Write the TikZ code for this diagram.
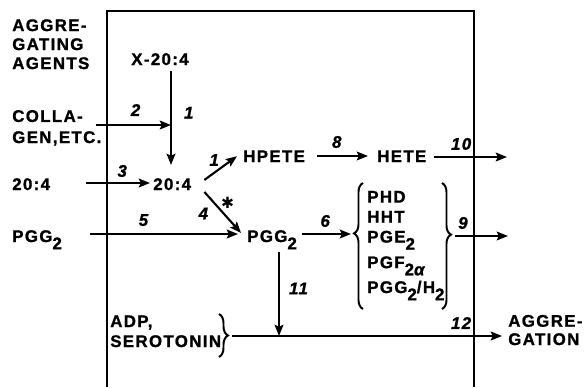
\documentclass[tikz,border=0pt]{standalone}
\usepackage{fontspec}
\setmainfont{Liberation Sans}[LetterSpace=8, BoldFeatures={FakeBold=1.2}, BoldItalicFeatures={FakeBold=1.2}]
\newfontfamily\starfont{DejaVu Sans}
\usetikzlibrary{arrows.meta,positioning,decorations.pathreplacing}

\newcommand{\dn}[1]{\raisebox{-1.8mm}{#1}}
\newcommand{\tightlines}{\lineskiplimit=-20pt\relax}

\begin{document}
\begin{tikzpicture}[
  x=0.25mm, y=-0.25mm,
  font=\fontsize{12}{13.5}\selectfont\bfseries\tightlines,
  txt/.style={inner sep=0pt, align=left},
  num/.style={inner sep=0pt, font=\fontsize{12}{13.5}\selectfont\bfseries\itshape},
  arr/.style={-{Stealth[length=2.8mm, width=2.2mm, inset=0.5mm]}, line width=1.5pt},
  brc/.style={decorate, decoration={brace, amplitude=2.25mm}, line width=1.4pt},
  frame/.style={line width=1.7pt}
]
\useasboundingbox (0,0) rectangle (585,387);

% platelet
\draw[frame] (107,387) -- (107,11) -- (474,11) -- (474,387);

% multi-line nodes sit on their last baseline
\node[txt, anchor=base west] (agents) at (12,69) {AGGRE-\\GATING\\AGENTS};
\node[txt, anchor=base west] (x204) at (131,65) {X-20:4};
\node[txt, anchor=base west, font=\fontsize{12}{15}\selectfont\bfseries\tightlines] (coll) at (12,143) {COLLA-\\GEN,ETC.};
\node[txt, anchor=base west] (aa) at (12,190) {20:4};
\node[txt, anchor=base west] (ab) at (153,190) {20:4};
\node[txt, anchor=base west] (hpete) at (243,162) {HPETE};
\node[txt, anchor=base west] (hete) at (377,162) {HETE};
\node[txt, anchor=base west] (pl) at (12,242) {PGG\dn{2}};
\node[txt, anchor=base west] (pm) at (247,242) {PGG\dn{2}};
\node[txt, anchor=base west, font=\fontsize{12}{14.2}\selectfont\bfseries\tightlines] (prods) at (367,293)
  {PHD\\HHT\\PGE\dn{2}\\[4pt]PGF\dn{2\itshape α}\\[3.5pt]PGG\dn{2}/H\dn{2}};
\node[txt, anchor=base west, font=\fontsize{12}{14.2}\selectfont\bfseries\tightlines] (adp) at (110,347) {ADP,\\SEROTONIN};
\node[txt, anchor=base west, font=\fontsize{12}{13}\selectfont\bfseries\tightlines] (aggr) at (508,345) {AGGRE-\\GATION};

\coordinate (join) at (171,125);
\coordinate (join2) at (279,336);
\coordinate (r3) at (0,183);
\coordinate (r5) at (0,234);
\coordinate (r8) at (0,156);
\coordinate (bl) at (351,234);
\coordinate (br) at (455,236);
\coordinate (ba) at (232,336);
\coordinate (out10) at (507,157);
\coordinate (out9) at (508,236);

\draw[brc, decoration={aspect=0.6}] (363,309) -- (363,183);
\draw[brc, decoration={aspect=0.41}] (442,183) -- (442,309);
\draw[brc, decoration={aspect=0.5}] (219,314) -- (219,357);

\draw[arr, shorten <=1.5mm, shorten >=3.25mm] (join |- x204.south) -- node[num, right=3mm, pos=0.42] {1} (join |- ab.north);
\draw[arr] ([xshift=-1.5mm]coll.east |- join) -- node[num, above=2mm, pos=0.53] {2} (join);
\draw[arr, shorten <=9mm, shorten >=0.75mm] (aa.east |- r3) -- node[num, above=1.25mm, pos=0.7] {3} (ab.west |- r3);
\draw[arr] ([shift={(13,2)}]ab.north east) -- node[num, pos=0.3, above=1.5mm] {1} ([xshift=-1.5mm]hpete.west);
\draw[arr] ([shift={(13,14)}]ab.north east) -- node[num, pos=0.3, xshift=-3mm, yshift=-2.3mm] {4}
  node[pos=0.5, xshift=1.25mm, yshift=2.5mm, inner sep=0pt, font=\starfont\fontsize{11}{11}\selectfont] {✱}
  ([shift={(-6,3)}]pm.north west);
\draw[arr, shorten <=7mm, shorten >=2.25mm] (pl.east |- r5) -- node[num, above=1.75mm, pos=0.44] {5} (pm.west |- r5);
\draw[arr, shorten <=1.25mm] (pm.east |- r5) -- node[num, above=1.5mm, pos=0.52] {6} (bl);
\draw[arr, shorten <=3mm, shorten >=2.25mm] (hpete.east |- r8) -- node[num, above=1.75mm, pos=0.44] {8} (hete.west |- r8);
\draw[arr, shorten <=1.75mm] (hete.east |- out10) -- node[num, above=1.5mm, pos=0.43] {10} (out10);
\draw[arr] (br) -- node[num, above=1.5mm, pos=0.15] {9} (out9);
% thromboxane route joins the release line
\draw[arr, shorten <=0.75mm] (join2 |- pm.south) -- node[num, right=2.25mm, pos=0.45] {11} (join2);
\draw[arr, shorten >=1.5mm] (ba) -- node[num, above=1.5mm, pos=0.83] {12} (aggr.west |- ba);
\end{tikzpicture}
\end{document}
